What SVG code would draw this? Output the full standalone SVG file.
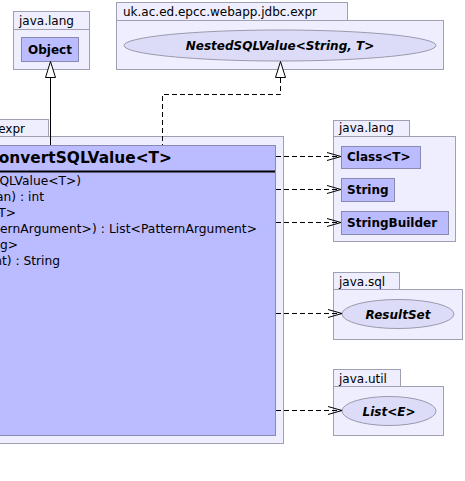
<svg xmlns="http://www.w3.org/2000/svg" width="465" height="481" viewBox="0 0 465 481">
<style>
.pkg{fill:#eeeefe;stroke:#a0a0b4;stroke-width:1}
.cls{fill:#bbbbff;stroke:#8a8ab0;stroke-width:1}
.ell{fill:#dcdcf8;stroke:#9a9aae;stroke-width:1}
.pl{font-family:"DejaVu Sans",sans-serif;font-size:12px;fill:#000}
.b{font-family:"DejaVu Sans",sans-serif;font-size:12px;font-weight:bold;fill:#000}
.bi{font-family:"DejaVu Sans",sans-serif;font-size:12px;font-weight:bold;font-style:italic;fill:#000}
.m{font-family:"DejaVu Sans",sans-serif;font-size:12.25px;fill:#000}
.dash{fill:none;stroke:#000;stroke-width:1;stroke-dasharray:5,3}
.solid{fill:none;stroke:#000;stroke-width:1}
.tri{fill:#fff;stroke:#000;stroke-width:1}
.vee{fill:none;stroke:#000;stroke-width:1}
</style>
<rect width="465" height="481" fill="#fff"/>
<g id="pkg-java-lang-1">
<rect class="pkg" x="13.5" y="11.5" width="76" height="18"/>
<rect class="pkg" x="13.5" y="29.5" width="76" height="40"/>
<text class="pl" x="19" y="25">java.lang</text>
</g>
<g id="node-object">
<rect class="cls" x="21.5" y="37.5" width="57" height="24"/>
<text class="b" x="50" y="54" text-anchor="middle">Object</text>
</g>
<g id="pkg-expr-top">
<rect class="pkg" x="116.5" y="2.5" width="231" height="18"/>
<rect class="pkg" x="116.5" y="20.5" width="327" height="49"/>
<text class="pl" x="123" y="16">uk.ac.ed.epcc.webapp.jdbc.expr</text>
</g>
<g id="node-nestedsqlvalue">
<ellipse class="ell" cx="280" cy="45.5" rx="156" ry="15.5"/>
<text class="bi" x="280" y="50" text-anchor="middle">NestedSQLValue&lt;String, T&gt;</text>
</g>
<g id="pkg-expr">
<rect class="pkg" x="-20" y="119.5" width="68.5" height="17"/>
<rect class="pkg" x="-20" y="136.5" width="303.5" height="307"/>
<text class="pl" x="25" y="133" text-anchor="end">expr</text>
</g>
<g id="node-convertsqlvalue">
<rect class="cls" x="-20" y="145.5" width="295.5" height="290"/>
<line x1="-20" y1="171.5" x2="275" y2="171.5" stroke="#000" stroke-width="2"/>
<text class="b" style="font-size:15.4px" x="172" y="163" text-anchor="end">onvertSQLValue&lt;T&gt;</text>
<text class="m" x="81" y="185" text-anchor="end">QLValue&lt;T&gt;)</text>
<text class="m" x="44" y="201" text-anchor="end">an) : int</text>
<text class="m" x="16" y="217" text-anchor="end">T&gt;</text>
<text class="m" x="0" y="233" textLength="257" lengthAdjust="spacing">ernArgument&gt;) : List&lt;PatternArgument&gt;</text>
<text class="m" x="18" y="249" text-anchor="end">g&gt;</text>
<text class="m" x="60" y="265" text-anchor="end">nt) : String</text>
</g>
<g id="pkg-java-lang-2">
<rect class="pkg" x="333.5" y="120.5" width="76" height="16"/>
<rect class="pkg" x="333.5" y="136.5" width="122" height="105"/>
<text class="pl" x="339" y="132">java.lang</text>
</g>
<g id="node-class">
<rect class="cls" x="341.5" y="146.5" width="79" height="22"/>
<text class="b" x="347" y="161">Class&lt;T&gt;</text>
</g>
<g id="node-string">
<rect class="cls" x="341.5" y="178.5" width="53" height="23"/>
<text class="b" x="347" y="194">String</text>
</g>
<g id="node-stringbuilder">
<rect class="cls" x="341.5" y="211.5" width="107" height="23"/>
<text class="b" x="347" y="227">StringBuilder</text>
</g>
<g id="pkg-java-sql">
<rect class="pkg" x="333.5" y="272.5" width="66" height="17"/>
<rect class="pkg" x="333.5" y="289.5" width="129" height="50"/>
<text class="pl" x="339" y="286">java.sql</text>
</g>
<g id="node-resultset">
<ellipse class="ell" cx="398" cy="314" rx="56" ry="14.5"/>
<text class="bi" x="398" y="318.5" text-anchor="middle">ResultSet</text>
</g>
<g id="pkg-java-util">
<rect class="pkg" x="333.5" y="369.5" width="67" height="17"/>
<rect class="pkg" x="333.5" y="386.5" width="110" height="49"/>
<text class="pl" x="339" y="383">java.util</text>
</g>
<g id="node-list">
<ellipse class="ell" cx="389" cy="411" rx="47" ry="14.5"/>
<text class="bi" x="389" y="415.5" text-anchor="middle">List&lt;E&gt;</text>
</g>
<g id="connectors">
<line class="solid" x1="50.5" y1="77.5" x2="50.5" y2="145"/>
<polygon class="tri" points="50.5,61.5 45.5,77.5 55.5,77.5"/>
<polyline class="dash" points="280.5,78 280.5,94.5 162.5,94.5 162.5,145"/>
<polygon class="tri" points="280.5,61.5 275.5,77.5 285.5,77.5"/>
<line class="dash" x1="276" y1="156.5" x2="340" y2="156.5"/>
<polyline class="vee" points="327,152.5 341,156.5 327,160.5"/>
<line class="dash" x1="276" y1="189.5" x2="340" y2="189.5"/>
<polyline class="vee" points="327,185.5 341,189.5 327,193.5"/>
<line class="dash" x1="276" y1="222.5" x2="340" y2="222.5"/>
<polyline class="vee" points="327,218.5 341,222.5 327,226.5"/>
<line class="dash" x1="276" y1="313.5" x2="341" y2="313.5"/>
<polyline class="vee" points="328,309.5 342,313.5 328,317.5"/>
<line class="dash" x1="276" y1="410.5" x2="341" y2="410.5"/>
<polyline class="vee" points="328,406.5 342,410.5 328,414.5"/>
</g>
</svg>
